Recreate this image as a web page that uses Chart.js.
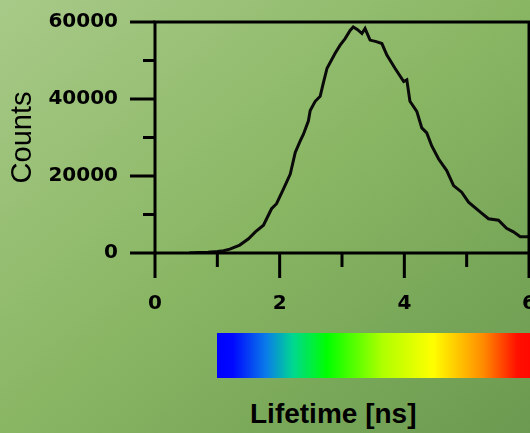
<!DOCTYPE html>
<html>
<head>
<meta charset="utf-8">
<script src="https://cdn.jsdelivr.net/npm/chart.js@4/dist/chart.umd.min.js"></script>
<style>
  html, body { margin: 0; padding: 0; }
  body {
    width: 530px; height: 433px; overflow: hidden; position: relative;
    background: linear-gradient(to bottom right, #a8ca88 0%, #89b663 50%, #6b9a50 100%);
  }
  #grafica { position: absolute; left: 0; top: -27px; }
  #barraColor {
    position: absolute; left: 217px; top: 333px; width: 330px; height: 45px;
    background: linear-gradient(to right, #0000ff 0px, #0008ff 16px, #0a7ee8 50px, #00d890 76px,
      #00ff00 110px, #b0ff00 166px, #ffff00 216px, #ff8c00 266px, #ff1000 300px, #ff0000 330px);
  }
  #etiqueta {
    position: absolute; left: 250px; top: 398px;
    font: bold 28px "Liberation Sans", Arial, sans-serif; color: #000;
  }
</style>
</head>
<body>
<canvas id="grafica" width="600" height="357"></canvas>
<div id="barraColor"></div>
<div id="etiqueta">Lifetime [ns]</div>
<script>
// datos (tiempo de vida en ns, cuentas)
const lifetimeNs = [0.55, 0.70, 0.85, 1.00, 1.10, 1.20, 1.36, 1.50, 1.61, 1.74, 1.87, 1.95,
  2.06, 2.17, 2.25, 2.33, 2.38, 2.46, 2.49, 2.57, 2.65, 2.70, 2.76, 2.89, 2.97, 3.05,
  3.13, 3.18, 3.25, 3.32, 3.37, 3.45, 3.55, 3.64, 3.72, 3.85, 3.99, 4.04, 4.09, 4.20,
  4.28, 4.36, 4.44, 4.55, 4.68, 4.79, 4.92, 5.03, 5.22, 5.35, 5.51, 5.64, 5.75, 5.86, 6.00];
const counts = [0, 100, 200, 400, 600, 1000, 2060, 3700, 5500, 7200, 11500, 12800,
  16600, 20500, 26100, 29100, 30800, 34250, 37000, 39400, 40700, 44100, 48000, 51900, 54000, 55700,
  57800, 58700, 58000, 57000, 58300, 55300, 54900, 54400, 51400, 48000, 44550, 45000, 39400, 36800,
  32500, 31200, 27800, 24400, 21400, 17500, 15800, 13200, 10600, 8900, 8500, 6400, 5500, 4200, 4200];

const xTicksMayores = [0, 2, 4, 6];
const xTicksMenores = [1, 3, 5];
const yTicksMayores = [0, 20000, 40000, 60000];
const yTicksMenores = [10000, 30000, 50000];

const marcoEjes = {
  id: 'marcoEjes',
  afterDraw(chart) {
    const { ctx, chartArea: a, scales: { x, y } } = chart;
    ctx.save();
    ctx.strokeStyle = '#000';
    ctx.lineWidth = 3;
    ctx.strokeRect(a.left, a.top, a.right - a.left, a.bottom - a.top);
    ctx.beginPath();
    xTicksMayores.forEach(v => {
      const px = x.getPixelForValue(v);
      ctx.moveTo(px, a.bottom); ctx.lineTo(px, a.bottom + 25);
    });
    xTicksMenores.forEach(v => {
      const px = x.getPixelForValue(v);
      ctx.moveTo(px, a.bottom); ctx.lineTo(px, a.bottom + 14);
    });
    yTicksMayores.forEach(v => {
      const py = y.getPixelForValue(v);
      ctx.moveTo(a.left, py); ctx.lineTo(a.left - 25, py);
    });
    yTicksMenores.forEach(v => {
      const py = y.getPixelForValue(v);
      ctx.moveTo(a.left, py); ctx.lineTo(a.left - 12, py);
    });
    ctx.stroke();
    ctx.restore();
  }
};

const fuenteTicks = { family: '"DejaVu Sans", sans-serif', size: 20, weight: 'bold' };

new Chart(document.getElementById('grafica').getContext('2d'), {
  type: 'line',
  data: {
    datasets: [{
      data: lifetimeNs.map((t, i) => ({ x: t, y: counts[i] })),
      borderColor: '#0a0a0a',
      borderWidth: 3,
      pointRadius: 0,
      tension: 0,
      fill: false
    }]
  },
  options: {
    responsive: false,
    animation: false,
    devicePixelRatio: 1,
    layout: { padding: { top: 20, right: 71, bottom: 0, left: 0 } },
    plugins: { legend: { display: false }, tooltip: { enabled: false } },
    scales: {
      x: {
        type: 'linear', min: 0, max: 6,
        afterBuildTicks: s => { s.ticks = xTicksMayores.map(v => ({ value: v })); },
        afterFit: s => { s.height = 77; },
        grid: { display: false, drawTicks: false },
        border: { display: false },
        ticks: { color: '#000', font: fuenteTicks, padding: 39, maxRotation: 0 }
      },
      y: {
        type: 'linear', min: 0, max: 60000,
        afterBuildTicks: s => { s.ticks = yTicksMayores.map(v => ({ value: v })); },
        afterFit: s => { s.width = 155; },
        grid: { display: false, drawTicks: false },
        border: { display: false },
        ticks: { color: '#000', font: fuenteTicks, padding: 37, callback: v => String(v) },
        title: {
          display: true, text: 'Counts', color: '#000',
          font: { family: '"Liberation Sans", Arial, sans-serif', size: 29, lineHeight: 1 },
          padding: { top: 8, bottom: 0 }
        }
      }
    }
  },
  plugins: [marcoEjes]
});
</script>
</body>
</html>
